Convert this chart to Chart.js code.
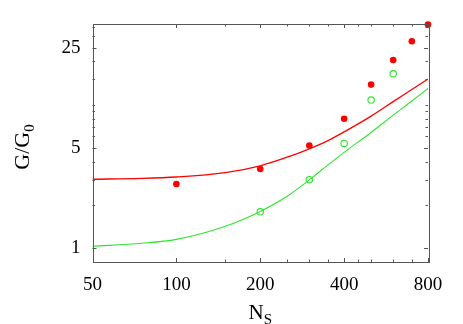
<!DOCTYPE html>
<html>
<head>
<meta charset="utf-8">
<script src="https://cdn.jsdelivr.net/npm/chart.js@4.4.0/dist/chart.umd.min.js"></script>
<style>
  html, body { margin: 0; padding: 0; background: #fff; }
  #wrap { width: 463px; height: 324px; }
</style>
</head>
<body>
<div id="wrap"><canvas id="chart"></canvas></div>
<script>
// fitted curves (sampled along N_S)
const nsCurve = [50, 75, 100, 150, 200, 250, 300, 350, 400, 500, 600, 700, 800];
const redCurve = [3.02, 3.06, 3.13, 3.36, 3.75, 4.3, 4.92, 5.62, 6.46, 8.32, 10.5, 12.75, 15.1];
const greenCurve = [1.03, 1.08, 1.15, 1.42, 1.8, 2.3, 2.99, 3.8, 4.65, 6.4, 8.45, 10.6, 12.96];

// measured points
const nsRed = [100, 200, 300, 400, 500, 600, 700, 800];
const redPts = [2.80, 3.56, 5.19, 7.97, 13.8, 20.5, 27.7, 36.2];
const nsGreen = [200, 300, 400, 500, 600];
const greenPts = [1.79, 3.0, 5.37, 10.76, 16.4];

// ticks
const xMajor = [50, 100, 200, 400, 800];
const xMinor = [150, 250, 300, 350, 450, 500, 600, 700];
const yMajor = [1, 5, 25];
const yMinor = [2, 3, 4, 6, 7, 8, 9, 10, 15, 20, 30, 35];

const RED = '#ff0000';
const GREEN = '#2ee62e';
const FONT = 'Liberation Serif, Times New Roman, serif';

const pairs = (xs, ys) => xs.map((x, i) => ({x: x, y: ys[i]}));

// frame + inward ticks + axis titles with subscripts
const framePlugin = {
  id: 'frame',
  afterDatasetsDraw(chart) {
    const {ctx, chartArea: a, scales} = chart;
    ctx.save();
    ctx.strokeStyle = '#555';
    ctx.lineWidth = 1;
    ctx.strokeRect(Math.round(a.left) + 0.5, Math.round(a.top) + 0.5,
      Math.round(a.right - a.left), Math.round(a.bottom - a.top));
    ctx.beginPath();
    const tick = (vals, len, scale, horiz) => {
      vals.forEach(v => {
        const p = Math.round(scale.getPixelForValue(v)) + 0.5;
        if (horiz) {
          ctx.moveTo(p, a.bottom); ctx.lineTo(p, a.bottom - len);
          ctx.moveTo(p, a.top); ctx.lineTo(p, a.top + len);
        } else {
          ctx.moveTo(a.left, p); ctx.lineTo(a.left + len, p);
          ctx.moveTo(a.right, p); ctx.lineTo(a.right - len, p);
        }
      });
    };
    tick(xMajor, 4, scales.x, true);
    tick(xMinor, 2.5, scales.x, true);
    tick(yMajor, 4, scales.y, false);
    tick(yMinor, 2.5, scales.y, false);
    ctx.stroke();
    ctx.restore();
  },
  afterDraw(chart) {
    const {ctx, chartArea: a} = chart;
    ctx.save();
    ctx.fillStyle = '#000';
    ctx.textBaseline = 'alphabetic';
    // x title: N_S
    ctx.font = '21px ' + FONT;
    const wN = ctx.measureText('N').width;
    ctx.font = '15px ' + FONT;
    const wS = ctx.measureText('S').width;
    const cx = (a.left + a.right) / 2;
    let x0 = cx - (wN + wS) / 2;
    ctx.font = '21px ' + FONT;
    ctx.fillText('N', x0, 319);
    ctx.font = '15px ' + FONT;
    ctx.fillText('S', x0 + wN, 324);
    // y title: G/G_0
    ctx.translate(29, (a.top + a.bottom) / 2 + 4);
    ctx.rotate(-Math.PI / 2);
    ctx.font = '22px ' + FONT;
    const wG = ctx.measureText('G/G').width;
    ctx.font = '15px ' + FONT;
    const w0 = ctx.measureText('0').width;
    x0 = -(wG + w0) / 2;
    ctx.font = '22px ' + FONT;
    ctx.fillText('G/G', x0, 0);
    ctx.font = '15px ' + FONT;
    ctx.fillText('0', x0 + wG, 5);
    ctx.restore();
  }
};

new Chart(document.getElementById('chart'), {
  type: 'scatter',
  data: {
    datasets: [
      {
        type: 'line',
        data: pairs(nsCurve, redCurve),
        borderColor: RED,
        borderWidth: 1.3,
        pointRadius: 0,
        cubicInterpolationMode: 'monotone',
        fill: false
      },
      {
        type: 'line',
        data: pairs(nsCurve, greenCurve),
        borderColor: GREEN,
        borderWidth: 1.1,
        pointRadius: 0,
        cubicInterpolationMode: 'monotone',
        fill: false
      },
      {
        data: pairs(nsRed, redPts),
        backgroundColor: RED,
        borderColor: RED,
        pointRadius: 3.3,
        borderWidth: 0,
        clip: false
      },
      {
        data: pairs(nsGreen, greenPts),
        backgroundColor: 'rgba(0,0,0,0)',
        borderColor: GREEN,
        pointRadius: 3.2,
        borderWidth: 1.1,
        clip: false
      }
    ]
  },
  options: {
    responsive: true,
    maintainAspectRatio: false,
    animation: false,
    layout: { padding: { left: 0, right: 35, top: 24, bottom: 0 } },
    plugins: { legend: { display: false }, tooltip: { enabled: false } },
    scales: {
      x: {
        type: 'logarithmic',
        min: 50,
        max: 800,
        grid: { display: false, drawTicks: false },
        border: { display: false },
        afterBuildTicks: s => { s.ticks = xMajor.concat(xMinor).map(v => ({value: v})); },
        afterFit: s => { s.height = 62; },
        ticks: {
          autoSkip: false,
          maxRotation: 0,
          padding: 12,
          color: '#000',
          font: { family: FONT, size: 19 },
          callback: v => xMajor.includes(v) ? String(v) : ''
        }
      },
      y: {
        type: 'logarithmic',
        min: 0.8,
        max: 36.5,
        grid: { display: false, drawTicks: false },
        border: { display: false },
        afterBuildTicks: s => { s.ticks = yMajor.concat(yMinor).map(v => ({value: v})); },
        afterFit: s => { s.width = 92.5; },
        ticks: {
          autoSkip: false,
          padding: 12,
          color: '#000',
          font: { family: FONT, size: 19 },
          callback: v => yMajor.includes(v) ? String(v) : ''
        }
      }
    }
  },
  plugins: [framePlugin]
});
</script>
</body>
</html>
